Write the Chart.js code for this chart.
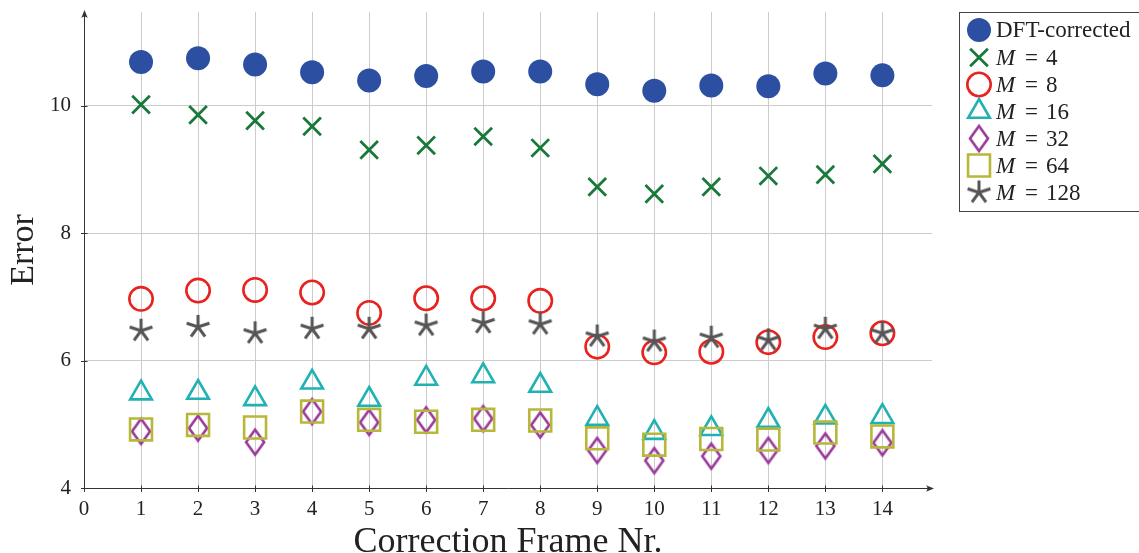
<!DOCTYPE html>
<html><head><meta charset="utf-8">
<script src="https://cdn.jsdelivr.net/npm/chart.js@4/dist/chart.umd.min.js"></script>
<style>html,body{margin:0;padding:0;background:#fff}#wrap{width:1139px;height:553px;position:relative}</style>
</head><body><div id="wrap"><canvas id="c" width="1139" height="553"></canvas></div>
<script>
// ---- data ----
const frames = [1,2,3,4,5,6,7,8,9,10,11,12,13,14];
const xTickValues = [0,1,2,3,4,5,6,7,8,9,10,11,12,13,14];
const yTickValues = [4,6,8,10];
const dftCorrected = [10.69,10.75,10.65,10.53,10.40,10.47,10.54,10.54,10.34,10.24,10.32,10.31,10.51,10.48];
const m4   = [10.02,9.86,9.77,9.68,9.31,9.38,9.52,9.34,8.73,8.62,8.73,8.90,8.92,9.09];
const m8   = [6.97,7.10,7.11,7.07,6.75,6.98,6.98,6.94,6.22,6.13,6.14,6.29,6.37,6.43];
const m16  = [5.49,5.50,5.40,5.66,5.39,5.72,5.76,5.61,5.09,4.87,4.93,5.06,5.11,5.12];
const m32  = [4.89,4.94,4.72,5.20,5.03,5.07,5.09,4.99,4.59,4.43,4.50,4.59,4.66,4.71];
const m64  = [4.92,4.99,4.95,5.20,5.07,5.04,5.07,5.06,4.78,4.68,4.77,4.76,4.87,4.81];
const m128 = [6.47,6.53,6.43,6.50,6.50,6.55,6.59,6.57,6.38,6.30,6.36,6.32,6.50,6.43];
const seriesNames = ['DFT-corrected','4','8','16','32','64','128'];
const seriesValues = [dftCorrected,m4,m8,m16,m32,m64,m128];

// ---- styling ----
const FONT = "'Liberation Serif', 'DejaVu Serif', serif";
const TEXT = '#222222';

function makeDiamond(color){
  const c = document.createElement('canvas'); c.width = 24; c.height = 32;
  const g = c.getContext('2d');
  g.strokeStyle = color; g.lineWidth = 2.6; g.lineJoin = 'miter';
  g.beginPath(); g.moveTo(12,3.5); g.lineTo(21,16); g.lineTo(12,28.5); g.lineTo(3,16); g.closePath(); g.stroke();
  return c;
}
function makeAsterisk(color){
  const c = document.createElement('canvas'); c.width = 30; c.height = 30;
  const g = c.getContext('2d');
  g.strokeStyle = color; g.lineWidth = 3; g.lineCap = 'butt';
  g.beginPath();
  for (let k=0;k<5;k++){
    const a = (-90 + 72*k) * Math.PI/180;
    g.moveTo(15,15); g.lineTo(15 + 12*Math.cos(a), 15 + 12*Math.sin(a));
  }
  g.stroke();
  return c;
}

const styles = [
  {pointStyle:'circle', radius:12, bw:0, color:'#2d4fa1', fill:'#2d4fa1'},
  {pointStyle:'crossRot', radius:12.5, bw:2.8, color:'#19793b', fill:'rgba(0,0,0,0)'},
  {pointStyle:'circle', radius:11.7, bw:2.6, color:'#e8221e', fill:'rgba(0,0,0,0)'},
  {pointStyle:'triangle', radius:12.5, bw:2.6, color:'#20b2b2', fill:'rgba(0,0,0,0)'},
  {pointStyle:makeDiamond('#9a3a9a'), radius:12, bw:0, color:'#9a3a9a', fill:'rgba(0,0,0,0)'},
  {pointStyle:'rect', radius:15.5, bw:2.6, color:'#b7b73a', fill:'rgba(0,0,0,0)'},
  {pointStyle:makeAsterisk('#555555'), radius:12, bw:0, color:'#555555', fill:'rgba(0,0,0,0)'}
];

const datasets = seriesValues.map((vals, i) => ({
  label: seriesNames[i],
  data: frames.map((f, j) => ({x: f, y: vals[j]})),
  showLine: false,
  pointStyle: styles[i].pointStyle,
  pointRadius: styles[i].radius,
  pointHoverRadius: styles[i].radius,
  pointBorderWidth: styles[i].bw,
  pointHoverBorderWidth: styles[i].bw,
  pointBorderColor: styles[i].color,
  pointBackgroundColor: styles[i].fill,
  order: seriesValues.length - i,
  clip: false
}));

const axisPlugin = {
  id: 'axisPlugin',
  beforeDatasetsDraw(chart){
    const {ctx, chartArea:a, scales:{x, y}} = chart;
    ctx.save();
    ctx.strokeStyle = '#333333'; ctx.fillStyle = '#333333'; ctx.lineWidth = 1;
    const y0 = Math.round(y.getPixelForValue(4)) + 0.5;
    const x0 = Math.round(x.getPixelForValue(0)) + 0.5;
    ctx.beginPath(); ctx.moveTo(x0, y0); ctx.lineTo(a.right, y0); ctx.stroke();
    ctx.beginPath(); ctx.moveTo(x0, y0); ctx.lineTo(x0, a.top); ctx.stroke();
    ctx.beginPath();
    ctx.moveTo(a.right + 2, y0); ctx.lineTo(a.right - 6, y0 - 3.2); ctx.quadraticCurveTo(a.right - 3, y0, a.right - 6, y0 + 3.2); ctx.closePath(); ctx.fill();
    ctx.beginPath();
    ctx.moveTo(x0, a.top - 2); ctx.lineTo(x0 - 3.2, a.top + 6); ctx.quadraticCurveTo(x0, a.top + 3, x0 + 3.2, a.top + 6); ctx.closePath(); ctx.fill();
    ctx.beginPath();
    xTickValues.forEach(v => { const px = Math.round(x.getPixelForValue(v)) + 0.5; ctx.moveTo(px, y0 - 3); ctx.lineTo(px, y0 + 3.5); });
    yTickValues.forEach(v => { const py = Math.round(y.getPixelForValue(v)) + 0.5; ctx.moveTo(x0 - 3.5, py); ctx.lineTo(x0 + 3, py); });
    ctx.stroke();
    ctx.restore();
  },
  afterDraw(chart){
    const ctx = chart.ctx;
    ctx.save();
    ctx.fillStyle = '#ffffff';
    ctx.fillRect(959.5, 12.5, 180, 199);
    ctx.strokeStyle = '#444444'; ctx.lineWidth = 1;
    ctx.strokeRect(959.5, 12.5, 180, 199);
    const rows = [30, 57.5, 84.5, 111.5, 138.5, 165.5, 192.5];
    const mx = 979, tx = 996;
    const fs = 23;
    styles.forEach((s, i) => {
      ctx.save();
      ctx.fillStyle = s.fill; ctx.strokeStyle = s.color; ctx.lineWidth = s.bw;
      Chart.helpers.drawPoint(ctx, {pointStyle: s.pointStyle, radius: s.radius, borderWidth: s.bw, rotation: 0}, mx, rows[i]);
      ctx.restore();
      ctx.fillStyle = TEXT; ctx.textBaseline = 'middle'; ctx.textAlign = 'left';
      if (i === 0){
        ctx.font = `${fs}px ${FONT}`;
        ctx.fillText(seriesNames[0], tx, rows[i] + 1);
      } else {
        ctx.font = `italic ${fs}px ${FONT}`;
        ctx.fillText('M', tx, rows[i] + 1);
        ctx.font = `${fs}px ${FONT}`;
        const eqX = 1025;
        ctx.fillText('=', eqX, rows[i] + 1);
        ctx.fillText(seriesNames[i], 1046, rows[i] + 1);
      }
    });
    ctx.restore();
  }
};

new Chart(document.getElementById('c'), {
  type: 'scatter',
  data: { datasets },
  options: {
    responsive: false,
    animation: false,
    devicePixelRatio: 1,
    layout: { autoPadding: false, padding: { left: 0, right: 207, top: 12, bottom: 0 } },
    plugins: { legend: { display: false }, tooltip: { enabled: false } },
    events: [],
    scales: {
      x: {
        type: 'linear', min: 0, max: 14.87,
        afterBuildTicks: s => { s.ticks = xTickValues.map(v => ({value: v})); },
        afterFit: s => { s.height = 65; s.paddingLeft = 0; s.paddingRight = 0; },
        ticks: { font: { family: FONT, size: 21 }, color: TEXT, padding: 9, maxRotation: 0, autoSkip: false },
        grid: { color: c => (c.tick && c.tick.value === 0) ? 'rgba(0,0,0,0)' : '#cccccc', drawTicks: false, lineWidth: 1 },
        border: { display: false },
        title: { display: true, text: 'Correction Frame Nr.', font: { family: FONT, size: 36, lineHeight: 1 }, color: TEXT, padding: { top: 0, bottom: -8 } }
      },
      y: {
        type: 'linear', min: 4, max: 11.475,
        afterBuildTicks: s => { s.ticks = yTickValues.map(v => ({value: v})); },
        afterFit: s => { s.width = 84; s.paddingTop = 0; s.paddingBottom = 0; },
        ticks: { font: { family: FONT, size: 21 }, color: TEXT, padding: 13 },
        grid: { color: c => (c.tick && c.tick.value === 4) ? 'rgba(0,0,0,0)' : '#cccccc', drawTicks: false, lineWidth: 1 },
        border: { display: false },
        title: { display: true, text: 'Error', font: { family: FONT, size: 34, lineHeight: 1 }, color: TEXT, padding: { top: 7, bottom: 0 } }
      }
    }
  },
  plugins: [axisPlugin]
});
</script>
</body></html>
